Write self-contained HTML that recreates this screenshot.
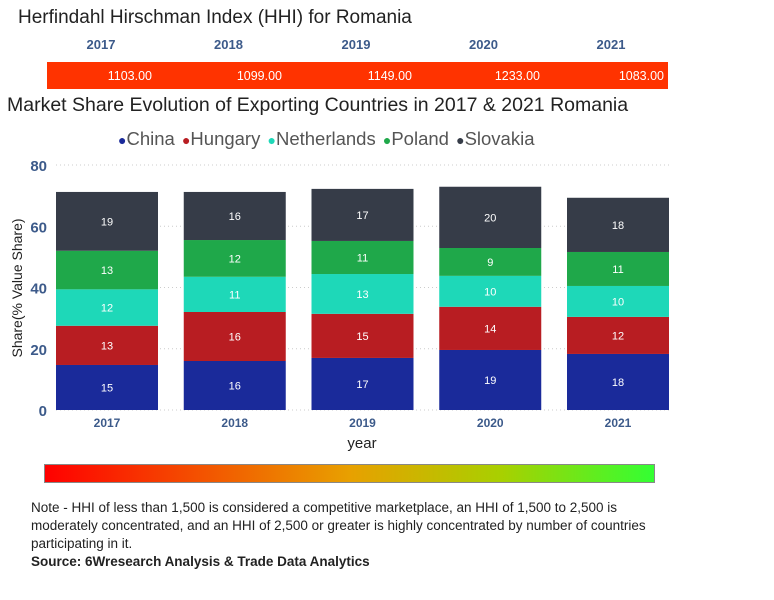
<!DOCTYPE html>
<html><head><meta charset="utf-8"><style>
body{margin:0;width:774px;height:600px;background:#fff;font-family:"Liberation Sans",sans-serif;position:relative;overflow:hidden}
.a{position:absolute}
</style></head><body>
<div class="a" style="left:18px;top:7px;font-size:19px;color:#222">Herfindahl Hirschman Index (HHI) for Romania</div>
<div class="a" style="left:7px;top:94px;font-size:19.5px;color:#222">Market Share Evolution of Exporting Countries in 2017 &amp; 2021 Romania</div>
<div class="a" style="left:118px;top:128px;font-size:18.5px;color:#555;white-space:nowrap;word-spacing:2px">
<span><span style="color:#1a2a9a;font-size:14px">●</span>China</span>
<span><span style="color:#b81d22;font-size:14px">●</span>Hungary</span>
<span><span style="color:#1ed8b8;font-size:14px">●</span>Netherlands</span>
<span><span style="color:#1fa84a;font-size:14px">●</span>Poland</span>
<span><span style="color:#363c48;font-size:14px">●</span>Slovakia</span></div>
<svg class="a" style="left:0;top:0" width="774" height="600" id="chart"></svg>
<div class="a" style="left:44px;top:464px;width:611px;height:19px;background:linear-gradient(90deg,#ff0000,#e8a000 50%,#a8d000 75%,#33ff33);border:1px solid #888;box-sizing:border-box"></div>
<div class="a" style="left:31px;top:499px;width:640px;font-size:13.5px;line-height:18px;color:#222">Note - HHI of less than 1,500 is considered a competitive marketplace, an HHI of 1,500 to 2,500 is moderately concentrated, and an HHI of 2,500 or greater is highly concentrated by number of countries participating in it.<br><b>Source: 6Wresearch Analysis &amp; Trade Data Analytics</b></div>
<script>
const years=["2017","2018","2019","2020","2021"];
const hhi=["1103.00","1099.00","1149.00","1233.00","1083.00"];
const seriesNames=["China","Hungary","Netherlands","Poland","Slovakia"];
const china=[14.7,16,17,19.6,18.3];
const hungary=[12.8,16,14.4,14.1,12.1];
const netherlands=[11.9,11.5,13,10.1,10.1];
const poland=[12.6,12,10.8,9.1,11.1];
const slovakia=[19.2,15.7,17,20,17.7];
const labels=[["15","16","17","19","18"],["13","16","15","14","12"],["12","11","13","10","10"],["13","12","11","9","11"],["19","16","17","20","18"]];
const yTicks=[0,20,40,60,80];
const colors=["#1a2a9a","#b81d22","#1ed8b8","#1fa84a","#363c48"];
const series=[china,hungary,netherlands,poland,slovakia];
const NS="http://www.w3.org/2000/svg";
const svg=document.getElementById('chart');
const y=v=>410-v*3.0625;
const x=i=>56+i*127.75;
const bw=102;
function el(t,a,p){const e=document.createElementNS(NS,t);for(const k in a)e.setAttribute(k,a[k]);(p||svg).appendChild(e);return e;}
yTicks.forEach(t=>{
 const l=el('line',{x1:56,x2:670,y1:y(t),y2:y(t),stroke:'#ccc','stroke-dasharray':'1 3'});
 
 
 const tx=el('text',{x:47,y:y(t)+6,'text-anchor':'end','font-size':15,'font-weight':'bold',fill:'#3c5a8a','font-family':'Liberation Sans'});
 tx.textContent=t;
 
 
});
years.forEach((yr,i)=>{
 let base=0;
 series.forEach((s,j)=>{
  const r=el('rect',{x:x(i),y:y(base+s[i]),width:bw,height:s[i]*3.0625,fill:colors[j]});
  
  
  const t=el('text',{x:x(i)+bw/2,y:y(base+s[i]/2)+4,'text-anchor':'middle','font-size':11,fill:'#fff','font-family':'Liberation Sans'});
  t.textContent=labels[j][i];
  
  
  base+=s[i];
 });
 const xt=el('text',{x:x(i)+bw/2,y:427,'text-anchor':'middle','font-size':12,'font-weight':'bold',fill:'#3c5a8a','font-family':'Liberation Sans'});
 xt.textContent=yr;
 
 
 const hy=el('text',{x:101+i*127.5,y:49,'text-anchor':'middle','font-size':13,'font-weight':'bold',fill:'#3c5a8a','font-family':'Liberation Sans'});
 hy.textContent=yr;
 
 
});
const hb=el('rect',{x:47,y:62,width:621,height:27,fill:'#ff3300'});


hhi.forEach((v,i)=>{
 const t=el('text',{x:[152,282,412,540,664][i],y:80,'text-anchor':'end','font-size':12.5,fill:'#fff','font-family':'Liberation Sans'});
 t.textContent=v;
 
 
});
const yt=el('text',{x:22,y:288,'text-anchor':'middle','font-size':14,fill:'#222',transform:'rotate(-90 22 288)','font-family':'Liberation Sans'});
yt.textContent='Share(% Value Share)';


const xa=el('text',{x:362,y:448,'text-anchor':'middle','font-size':15,fill:'#222','font-family':'Liberation Sans'});
xa.textContent='year';


</script>
</body></html>
